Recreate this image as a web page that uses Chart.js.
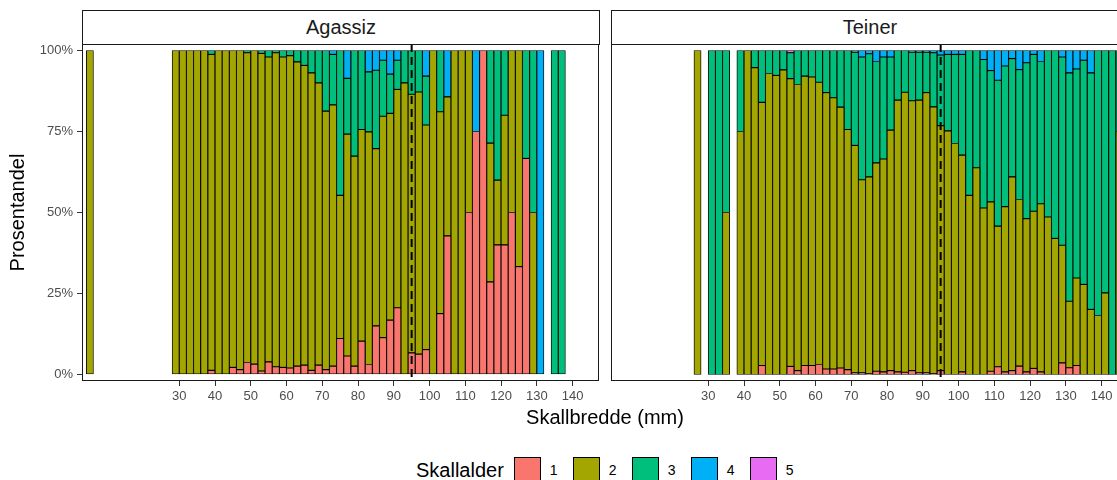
<!DOCTYPE html>
<html>
<head>
<meta charset="utf-8">
<script src="https://cdn.jsdelivr.net/npm/chart.js@4.4.1/dist/chart.umd.min.js"></script>
<style>
  body { margin: 0; width: 1117px; height: 480px; overflow: hidden; background: #fff; position: relative;
         font-family: "Liberation Sans", Arial, sans-serif; }
  canvas { position: absolute; top: 0; }
  .strip { position: absolute; top: 10px; height: 35px; width: 518px; box-sizing: border-box; border: 1px solid #1a1a1a;
           background: #fff; text-align: center; line-height: 32px; font-size: 20px; color: #1a1a1a; }
  #xtitle { position: absolute; left: 0; width: 1210px; top: 406px; text-align: center; font-size: 20px; color: #000; }
  #legend { position: absolute; left: 416px; top: 457px; display: flex; align-items: flex-start; font-size: 20px; }
  #legend .key { width: 27px; height: 27px; box-sizing: border-box; border: 1px solid #000; margin-left: 10px; }
  #legend .lab { font-size: 14px; margin-left: 9px; margin-top: 5px; width: 13px; }
</style>
</head>
<body>
<canvas id="agassiz" width="605" height="420" style="left:0"></canvas>
<canvas id="teiner" width="529" height="420" style="left:605px"></canvas>
<div class="strip" style="left:82px">Agassiz</div>
<div class="strip" style="left:611px">Teiner</div>
<div id="xtitle">Skallbredde (mm)</div>
<div id="legend"><span style="margin-top:2px">Skallalder</span></div>
<script>
// Aldersgrupper og farger
const AGE_LABELS = ["1", "2", "3", "4", "5"];
const AGE_COLORS = ["#F8766D", "#A3A500", "#00BF7D", "#00B0F6", "#E76BF3"];
const X_TICKS = [30, 40, 50, 60, 70, 80, 90, 100, 110, 120, 130, 140];
const Y_TICKS = [0, 25, 50, 75, 100];
const CUTOFF = 95;

// Agassiz: midtpunkt for 2 mm-klasser og andel (%) per skallalder
const agassizBins = [5, 29, 31, 33, 35, 37, 39, 41, 43, 45, 47, 49, 51, 53, 55, 57, 59, 61, 63, 65, 67, 69,
  71, 73, 75, 77, 79, 81, 83, 85, 87, 89, 91, 93, 95, 97, 99, 101, 103, 105, 107, 109, 111, 113, 115,
  117, 119, 121, 123, 125, 127, 129, 131, 135, 137];
const agassizAge1 = [0, 0, 0, 0, 0, 0, 1.3, 0, 0, 2.2, 1.5, 3.7, 3.2, 1.1, 3.9, 2.4, 2.2, 2.0, 2.6, 2.9, 1.3, 2.9,
  1.5, 2.6, 11.1, 5.7, 2.6, 10.3, 3.1, 15.0, 11.4, 16.8, 20.6, 0, 6.7, 6.3, 7.7, 0, 18.8, 42.8, 0, 0, 50, 75, 100,
  28.6, 40, 40, 50, 33.3, 66.7, 0, 0, 0, 0];
const agassizAge2 = [100, 100, 100, 100, 100, 100, 97.5, 100, 100, 97.8, 98.5, 95.6, 96.8, 98.0, 94.1, 96.9, 95.8, 96.4, 93.9, 92.5, 91.8, 87.1,
  79.8, 80.6, 44.2, 68.5, 64.8, 65.3, 71.8, 54.7, 68.3, 63.8, 67.4, 90.0, 79.8, 80.9, 69.3, 100, 62.3, 42.9, 100, 100, 50, 0, 0,
  42.8, 20, 40, 50, 66.7, 0, 50, 0, 0, 0];
const agassizAge3 = [0, 0, 0, 0, 0, 0, 1.2, 0, 0, 0, 0, 0.7, 0, 0.9, 2.0, 0.7, 2.0, 1.6, 3.5, 4.6, 6.9, 10.0,
  18.7, 15.6, 44.7, 17.2, 32.6, 24.4, 18.5, 24.2, 17.3, 12.1, 9.0, 10.0, 13.5, 12.8, 15.1, 0, 18.9, 0, 0, 0, 0, 0, 0,
  28.6, 40, 20, 0, 0, 33.3, 50, 0, 100, 100];
const agassizAge4 = [0, 0, 0, 0, 0, 0, 0, 0, 0, 0, 0, 0, 0, 0, 0, 0, 0, 0, 0, 0, 0, 0,
  0, 1.2, 0, 8.6, 0, 0, 6.6, 6.1, 3.0, 7.3, 3.0, 0, 0, 0, 7.9, 0, 0, 14.3, 0, 0, 0, 25, 0,
  0, 0, 0, 0, 0, 0, 0, 100, 0, 0];
const agassizAge5 = agassizBins.map(() => 0);

// Teiner
const teinerBins = [27, 31, 33, 35, 39, 41, 43, 45, 47, 49, 51, 53, 55, 57, 59, 61, 63, 65, 67, 69, 71, 73,
  75, 77, 79, 81, 83, 85, 87, 89, 91, 93, 95, 97, 99, 101, 103, 105, 107, 109, 111, 113, 115, 117, 119,
  121, 123, 125, 127, 129, 131, 133, 135, 137, 139, 141, 143, 145];
const teinerAge1 = [0, 0, 0, 0, 0, 0, 0, 2.8, 0, 0, 0, 2.5, 1.2, 2.8, 2.8, 3.1, 1.7, 1.7, 2.0, 1.5, 0.5, 0.5,
  0.3, 1.0, 0.8, 1.2, 0.8, 0.7, 1.2, 0.5, 0.5, 0.3, 1.2, 0, 0, 0.8, 0, 0, 0, 1.0, 2.4, 0.8, 1.2, 2.6, 0.8,
  1.9, 0.8, 0, 0, 3.6, 2.1, 2.8, 0, 0, 0, 0, 0, 0];
const teinerAge2 = [100, 0, 0, 50, 75, 100, 94.7, 81.2, 92.9, 92.3, 94.0, 88.8, 88.3, 89.3, 89.0, 87.1, 85.3, 83.7, 80.5, 74.1, 70.2, 59.6,
  60.7, 64.3, 65.7, 74.2, 83.9, 86.4, 83.3, 84.2, 86.5, 82.3, 75.6, 75.2, 71.3, 66.9, 55.3, 63.8, 51.4, 52.3, 43.4, 51.0, 59.8, 51.4, 47.3,
  48.5, 51.9, 48.6, 42.0, 36.3, 20.5, 27.0, 27.8, 20.1, 18.2, 25.2, 0, 75];
const teinerAge3 = [0, 100, 100, 50, 25, 0, 5.3, 16.0, 7.1, 7.7, 6.0, 8.0, 10.5, 7.9, 8.2, 9.8, 13.0, 14.6, 17.5, 24.4, 28.8, 37.9,
  38.0, 31.3, 31.5, 22.6, 15.3, 12.9, 15.0, 14.8, 12.5, 16.7, 21.8, 23.6, 27.5, 31.1, 44.7, 36.2, 45.8, 40.5, 45.0, 43.4, 36.5, 40.1, 48.1,
  48.4, 43.9, 51.4, 58.0, 58.1, 70.5, 64.5, 69.2, 73.0, 81.8, 74.8, 100, 25];
const teinerAge4 = [0, 0, 0, 0, 0, 0, 0, 0, 0, 0, 0, 0, 0, 0, 0, 0, 0, 0, 0, 0, 0.5, 2.0,
  1.0, 3.4, 2.0, 2.0, 0, 0, 0.5, 0.5, 0.5, 0.7, 1.4, 1.2, 1.2, 1.2, 0, 0, 2.8, 6.2, 9.2, 4.8, 2.5, 5.9, 3.8,
  1.2, 3.4, 0, 0, 2.0, 6.9, 5.7, 3.0, 6.9, 0, 0, 0, 0];
const teinerAge5 = [0, 0, 0, 0, 0, 0, 0, 0, 0, 0, 0, 0.7, 0, 0, 0, 0, 0, 0, 0, 0, 0, 0,
  0, 0, 0, 0, 0, 0, 0, 0, 0, 0, 0, 0, 0, 0, 0, 0, 0, 0, 0, 0, 0, 0, 0,
  0, 0, 0, 0, 0, 0, 0, 0, 0, 0, 0, 0, 0];

// Legende
const legend = document.getElementById("legend");
AGE_LABELS.forEach((lab, i) => {
  legend.insertAdjacentHTML("beforeend",
    `<div class="key" style="background:${AGE_COLORS[i]}"></div><div class="lab">${lab}</div>`);
});

// Stabler andelene slik at hver klasse summerer til 100 %
function makeDatasets(bins, series) {
  const sums = bins.map((b, i) => series.reduce((s, arr) => s + arr[i], 0));
  return series.map((arr, k) => ({
    label: AGE_LABELS[k],
    data: bins.map((b, i) => ({ x: b, y: arr[i] ? arr[i] / sums[i] * 100 : null })),
    backgroundColor: AGE_COLORS[k],
    borderColor: "#000",
    borderWidth: 0.9,
    borderSkipped: false,
    barPercentage: 1,
    categoryPercentage: 1,
  }));
}

// Panelramme og stiplet linje ved 95 mm
const panelPlugin = {
  id: "panel",
  afterDatasetsDraw(chart) {
    const { ctx, chartArea: a, scales } = chart;
    const x = scales.x.getPixelForValue(CUTOFF);
    ctx.save();
    ctx.strokeStyle = "#000";
    ctx.lineWidth = 2;
    ctx.setLineDash([8, 5]);
    ctx.beginPath();
    ctx.moveTo(x, a.top);
    ctx.lineTo(x, a.bottom);
    ctx.stroke();
    ctx.setLineDash([]);
    ctx.lineWidth = 1;
    ctx.strokeStyle = "#1a1a1a";
    ctx.strokeRect(a.left + 0.5, a.top + 0.5, a.right - a.left - 1, a.bottom - a.top - 1);
    ctx.restore();
  }
};

function makeChart(id, bins, series, showY, padding) {
  new Chart(document.getElementById(id), {
    type: "bar",
    data: { datasets: makeDatasets(bins, series) },
    options: {
      responsive: false,
      animation: false,
      layout: { padding },
      plugins: { legend: { display: false }, tooltip: { enabled: false } },
      scales: {
        x: {
          type: "linear",
          stacked: true,
          offset: false,
          min: 2.8,
          max: 147.4,
          afterBuildTicks: s => { s.ticks = X_TICKS.map(v => ({ value: v })); },
          afterFit: s => { s.height = 39; },
          grid: { offset: false, drawOnChartArea: false, tickLength: 5, color: "#333" },
          border: { display: false },
          ticks: { color: "#4D4D4D", font: { family: "Liberation Sans", size: 13 }, padding: 3, maxRotation: 0, autoSkip: false },
        },
        y: {
          display: showY,
          stacked: true,
          min: -2,
          max: 102,
          afterBuildTicks: s => { s.ticks = Y_TICKS.map(v => ({ value: v })); },
          afterFit: s => { s.width = showY ? 82 : 0; },
          grid: { drawOnChartArea: false, tickLength: 5, color: "#333" },
          border: { display: false },
          ticks: { color: "#4D4D4D", font: { family: "Liberation Sans", size: 13 }, padding: 4, callback: v => v + "%" },
          title: { display: true, text: "Prosentandel", color: "#000", font: { family: "Liberation Sans", size: 20 }, padding: 6 },
        },
      },
    },
    plugins: [panelPlugin],
  });
}

makeChart("agassiz", agassizBins, [agassizAge1, agassizAge2, agassizAge3, agassizAge4, agassizAge5], true,
  { top: 44, right: 6, left: 0, bottom: 0 });
makeChart("teiner", teinerBins, [teinerAge1, teinerAge2, teinerAge3, teinerAge4, teinerAge5], false,
  { top: 44, right: 6, left: 6, bottom: 0 });
</script>
</body>
</html>
